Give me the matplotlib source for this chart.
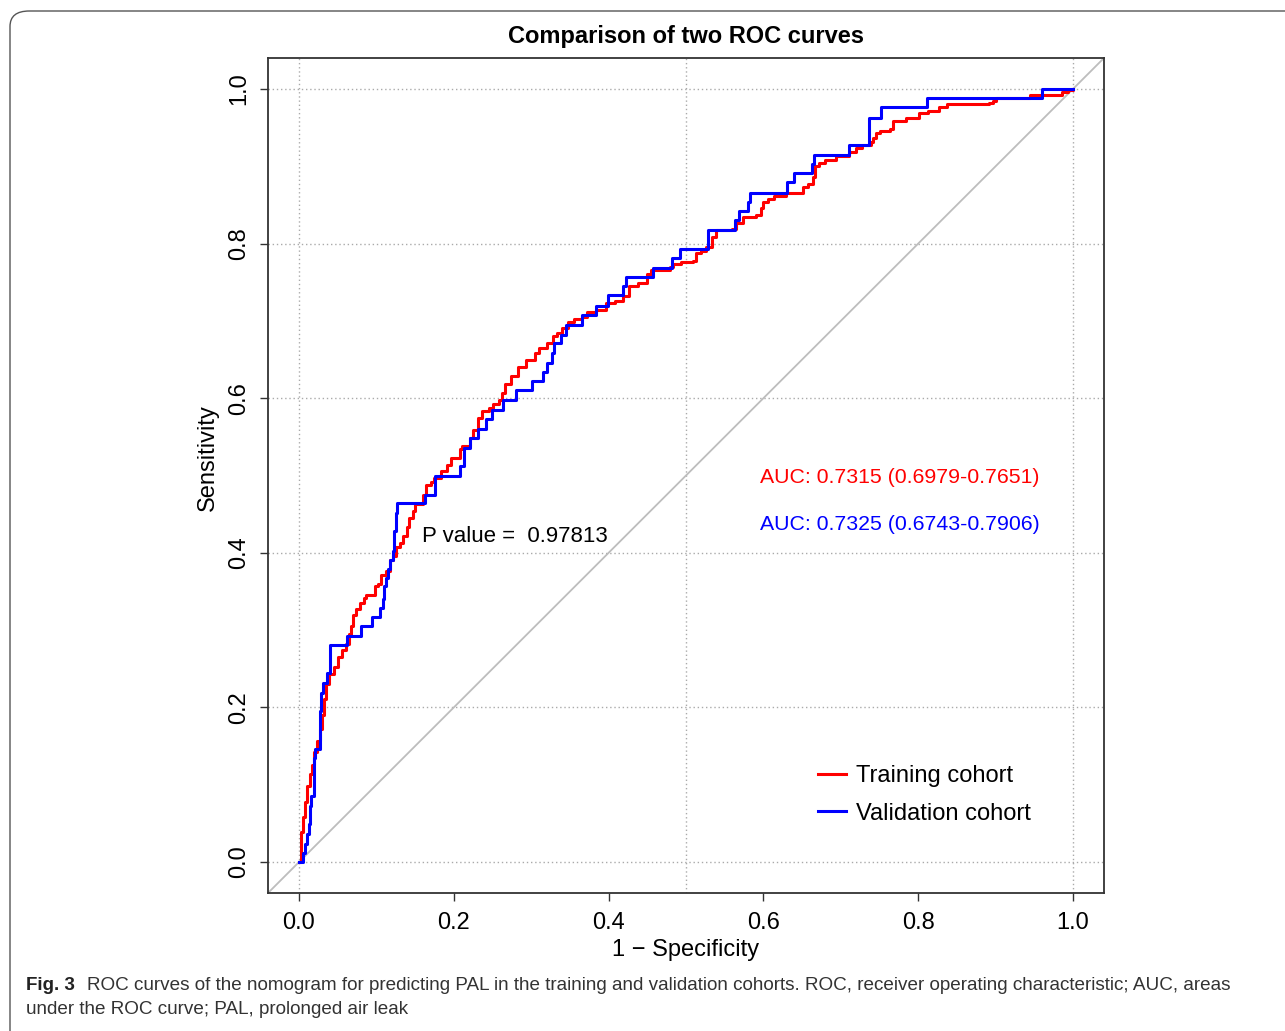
import matplotlib
matplotlib.use("Agg")
import matplotlib.pyplot as plt
from matplotlib.patches import FancyBboxPatch

# training cohort ROC (1 - specificity, sensitivity)
train_fpr = [0.000, 0.002, 0.005, 0.008, 0.010, 0.014, 0.017, 0.019, 0.023, 0.027,
             0.030, 0.032, 0.035, 0.039, 0.045, 0.050, 0.055, 0.061, 0.065, 0.067,
             0.070, 0.074, 0.079, 0.084, 0.086, 0.098, 0.102, 0.106, 0.113, 0.117,
             0.122, 0.126, 0.130, 0.135, 0.139, 0.142, 0.147, 0.150, 0.160, 0.164,
             0.171, 0.175, 0.184, 0.191, 0.197, 0.208, 0.210, 0.221, 0.225, 0.231,
             0.236, 0.246, 0.251, 0.258, 0.262, 0.266, 0.274, 0.283, 0.293, 0.305,
             0.310, 0.320, 0.328, 0.333, 0.340, 0.347, 0.355, 0.366, 0.372, 0.384,
             0.397, 0.408, 0.419, 0.426, 0.438, 0.449, 0.455, 0.479, 0.483, 0.494,
             0.509, 0.513, 0.520, 0.526, 0.533, 0.539, 0.560, 0.565, 0.573, 0.591,
             0.597, 0.599, 0.606, 0.614, 0.629, 0.646, 0.651, 0.657, 0.664, 0.667,
             0.672, 0.679, 0.694, 0.711, 0.720, 0.728, 0.739, 0.741, 0.745, 0.751,
             0.763, 0.767, 0.784, 0.801, 0.812, 0.827, 0.837, 0.892, 0.896, 0.900,
             0.945, 0.986, 0.993, 1.000]
train_tpr = [0.000, 0.039, 0.058, 0.078, 0.098, 0.114, 0.125, 0.143, 0.156, 0.172,
             0.190, 0.211, 0.230, 0.243, 0.252, 0.265, 0.274, 0.282, 0.295, 0.305,
             0.319, 0.327, 0.335, 0.342, 0.345, 0.357, 0.360, 0.371, 0.376, 0.391,
             0.396, 0.407, 0.413, 0.422, 0.434, 0.445, 0.454, 0.463, 0.475, 0.488,
             0.491, 0.497, 0.506, 0.514, 0.523, 0.534, 0.538, 0.549, 0.559, 0.575,
             0.583, 0.587, 0.592, 0.598, 0.607, 0.618, 0.629, 0.640, 0.649, 0.659,
             0.665, 0.671, 0.680, 0.684, 0.691, 0.699, 0.703, 0.705, 0.711, 0.714,
             0.723, 0.726, 0.732, 0.745, 0.749, 0.760, 0.766, 0.770, 0.774, 0.776,
             0.778, 0.788, 0.790, 0.796, 0.809, 0.817, 0.819, 0.826, 0.834, 0.837,
             0.846, 0.854, 0.857, 0.862, 0.865, 0.866, 0.873, 0.877, 0.886, 0.900,
             0.904, 0.908, 0.913, 0.919, 0.923, 0.928, 0.931, 0.936, 0.943, 0.946,
             0.948, 0.958, 0.963, 0.969, 0.972, 0.976, 0.980, 0.982, 0.985, 0.988,
             0.992, 0.996, 0.999, 1.000]

# validation cohort ROC
valid_fpr = [0.000, 0.005, 0.008, 0.010, 0.013, 0.014, 0.016, 0.019, 0.021, 0.027,
             0.029, 0.031, 0.036, 0.040, 0.062, 0.080, 0.094, 0.105, 0.108, 0.110,
             0.112, 0.115, 0.118, 0.121, 0.123, 0.126, 0.127, 0.163, 0.176, 0.208,
             0.213, 0.221, 0.231, 0.242, 0.249, 0.263, 0.281, 0.301, 0.315, 0.320,
             0.327, 0.329, 0.339, 0.345, 0.365, 0.384, 0.399, 0.419, 0.422, 0.457,
             0.482, 0.492, 0.528, 0.563, 0.568, 0.580, 0.583, 0.630, 0.639, 0.663,
             0.665, 0.711, 0.736, 0.752, 0.811, 0.960, 1.000]
valid_tpr = [0.000, 0.012, 0.023, 0.036, 0.049, 0.073, 0.086, 0.134, 0.146, 0.195,
             0.219, 0.232, 0.244, 0.281, 0.293, 0.305, 0.317, 0.329, 0.340, 0.357,
             0.368, 0.379, 0.391, 0.402, 0.428, 0.452, 0.464, 0.475, 0.500, 0.512,
             0.536, 0.549, 0.560, 0.573, 0.585, 0.598, 0.610, 0.622, 0.634, 0.646,
             0.659, 0.671, 0.682, 0.695, 0.707, 0.719, 0.733, 0.745, 0.757, 0.768,
             0.781, 0.793, 0.818, 0.830, 0.842, 0.854, 0.866, 0.879, 0.891, 0.903,
             0.915, 0.928, 0.963, 0.976, 0.988, 1.000, 1.000]

ticks = [0.0, 0.2, 0.4, 0.6, 0.8, 1.0]
tick_labels = ["0.0", "0.2", "0.4", "0.6", "0.8", "1.0"]
vgrid = [0.0, 0.5, 1.0]

train_auc = "AUC: 0.7315 (0.6979-0.7651)"
valid_auc = "AUC: 0.7325 (0.6743-0.7906)"
p_text = "P value =  0.97813"

plt.rcParams['font.family'] = ['Liberation Sans', 'DejaVu Sans']

W, H = 1285, 1031
fig = plt.figure(figsize=(W / 100, H / 100), dpi=100)

# rounded frame of the journal figure
frame = FancyBboxPatch((10 / W, -20 / H), 1300 / W, (H - 11 + 20) / H,
                       boxstyle="round,pad=0,rounding_size=0.015",
                       transform=fig.transFigure, fill=False,
                       edgecolor="#555555", linewidth=1.0)
fig.patches.append(frame)

ax = fig.add_axes([268 / W, (H - 893) / H, (1104 - 268) / W, (893 - 58) / H])
ax.set_xlim(-0.04, 1.04)
ax.set_ylim(-0.04, 1.04)

for y in ticks:
    ax.axhline(y, color="#aaaaaa", linestyle=(0, (1, 2)), linewidth=1.0, zorder=1)
for x in vgrid:
    ax.axvline(x, color="#aaaaaa", linestyle=(0, (1, 2)), linewidth=1.0, zorder=1)

ax.axline((0, 0), slope=1, color="#bdbdbd", linewidth=1.3, zorder=2)

ax.plot(train_fpr, train_tpr, drawstyle="steps-post", color="#ff0000",
        linewidth=2.2, label="Training cohort", zorder=3)
ax.plot(valid_fpr, valid_tpr, drawstyle="steps-post", color="#0000ff",
        linewidth=2.2, label="Validation cohort", zorder=4)

ax.text(0.159, 0.421, p_text, fontsize=16, va="center", ha="left", color="black")
ax.text(0.595, 0.497, train_auc, fontsize=15.3, va="center", ha="left", color="#ff0000")
ax.text(0.595, 0.437, valid_auc, fontsize=15.3, va="center", ha="left", color="#0000ff")

ax.legend(loc="upper left", bbox_to_anchor=((818 - 268) / 836, (893 - 765) / 835),
          frameon=False, fontsize=17, handlelength=1.2, handletextpad=0.4,
          borderpad=0, borderaxespad=0, labelspacing=0.66)

ax.set_xticks(ticks)
ax.set_xticklabels(tick_labels)
ax.set_yticks(ticks)
ax.set_yticklabels(tick_labels, rotation=90, va="center")
ax.tick_params(axis="both", direction="out", length=6, width=1.0,
               labelsize=17, color="#333333")
ax.tick_params(axis="x", pad=8)
ax.tick_params(axis="y", pad=7)
for sp in ax.spines.values():
    sp.set_color("#333333")
    sp.set_linewidth(1.3)

fig.text(686 / W, 1 - 36 / H, "Comparison of two ROC curves", fontsize=17,
         fontweight="bold", ha="center", va="center")
fig.text(686 / W, 1 - 950 / H, "1 \u2212 Specificity", fontsize=17,
         ha="center", va="center")
fig.text(208 / W, 1 - 458 / H, "Sensitivity", fontsize=17, rotation=90,
         ha="center", va="center")

cap_font = ['Liberation Sans', 'DejaVu Sans']
fig.text(26 / W, 1 - 985 / H, "Fig. 3", fontsize=13.5, fontweight="bold",
         family=cap_font, ha="left", va="center", color="#222222")
fig.text(87 / W, 1 - 985 / H,
         "ROC curves of the nomogram for predicting PAL in the training and validation "
         "cohorts. ROC, receiver operating characteristic; AUC, areas",
         fontsize=13.6, family=cap_font, ha="left", va="center", color="#333333")
fig.text(26 / W, 1 - 1010 / H, "under the ROC curve; PAL, prolonged air leak",
         fontsize=13.6, family=cap_font, ha="left", va="center", color="#333333")

fig.savefig("out.png", dpi=100)
